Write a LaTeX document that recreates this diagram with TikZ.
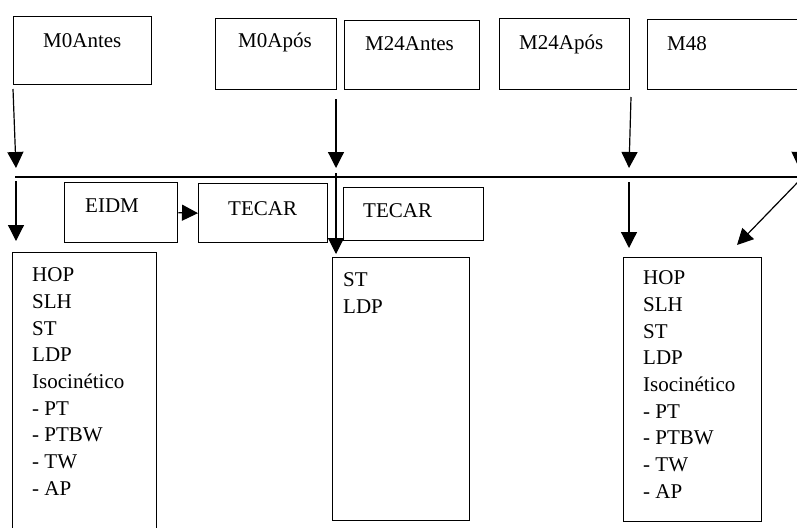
\documentclass[tikz,border=0pt]{standalone}
\usepackage{fontspec}
\setmainfont{Liberation Serif}
\usetikzlibrary{arrows.meta}
\begin{document}
\begin{tikzpicture}[x=1pt,y=-1pt,
  box/.style={draw, line width=1.3pt, inner sep=0pt, anchor=north west},
  lbl/.style={anchor=base west, inner sep=0pt},
  lst/.style={anchor=north west, inner sep=0pt, align=left},
  arr/.style={line width=1.2pt, -{Triangle[length=16pt,width=16pt]}},
  every node/.style={font=\fontsize{21}{26.7}\selectfont}]
\useasboundingbox (0,0) rectangle (797,527);
% boxes
\node[box, minimum width=138pt, minimum height=68pt] (b0a) at (13,16) {};
\node[box, minimum width=121pt, minimum height=71pt] (b0p) at (215,18) {};
\node[box, minimum width=135pt, minimum height=69pt] (b24a) at (344,20) {};
\node[box, minimum width=130pt, minimum height=71pt] (b24p) at (499,18) {};
\node[box, minimum width=160pt, minimum height=70pt] (b48) at (647,19) {};
\node[box, minimum width=113pt, minimum height=60pt] (eidm) at (64,182) {};
\node[box, minimum width=129pt, minimum height=59pt] (tec1) at (198,183) {};
\node[box, minimum width=140pt, minimum height=53pt] (tec2) at (343,187) {};
\node[box, minimum width=144pt, minimum height=290pt] (lb) at (12,252) {};
\node[box, minimum width=137pt, minimum height=263pt] (mb) at (332,257) {};
\node[box, minimum width=138pt, minimum height=264pt] (rb) at (623,257) {};
% labels
\node[lbl] (t0a) at (43,48) {M0Antes};
\node[lbl] (t0p) at (238,48) {M0Após};
\node[lbl] (t24a) at (365,51) {M24Antes};
\node[lbl] (t24p) at (519,49) {M24Após};
\node[lbl] (t48) at (667,51) {M48};
\node[lbl] (te) at (85,212) {EIDM};
\node[lbl] (tt1) at (228,215) {TECAR};
\node[lbl] (tt2) at (363,217) {TECAR};
\node[lst] (lt) at (32,266.5) {\rule{0pt}{15pt}HOP\\SLH\\ST\\LDP\\Isocinético\\- PT\\- PTBW\\- TW\\- AP};
\node[lst] (mt) at (343,271.5) {\rule{0pt}{15pt}ST\\LDP};
\node[lst] (rt) at (643,269.5) {\rule{0pt}{15pt}HOP\\SLH\\ST\\LDP\\Isocinético\\- PT\\- PTBW\\- TW\\- AP};
% timeline
\coordinate (L0) at (15,177);
\coordinate (L1) at (800,177);
\draw[line width=1.2pt] (L0) -- (L1);
% arrow coordinates
\coordinate (a1s) at (13,89);  \coordinate (a1e) at (16,168);
\coordinate (a2s) at (16,181); \coordinate (a2e) at (16,241);
\coordinate (a3s) at (336,99); \coordinate (a3e) at (336,168);
\coordinate (a4s) at (336,173); \coordinate (a4e) at (336,254);
\coordinate (a5s) at (631,97); \coordinate (a5e) at (629,168);
\coordinate (a6s) at (629,182); \coordinate (a6e) at (629,248);
\coordinate (a7s) at (800,140); \coordinate (a7e) at (799,168);
\coordinate (a8s) at (798,182); \coordinate (a8e) at (737,245);
\draw[arr] (a1s) -- (a1e);
\draw[arr] (a2s) -- (a2e);
\draw[arr] (a3s) -- (a3e);
\draw[arr] (a4s) -- (a4e);
\draw[arr] (a5s) -- (a5e);
\draw[arr] (a6s) -- (a6e);
\draw[arr] (a7s) -- (a7e);
\draw[arr] (a8s) -- (a8e);
\draw[arr] (eidm.east) -- (tec1.west);
\end{tikzpicture}
\end{document}
